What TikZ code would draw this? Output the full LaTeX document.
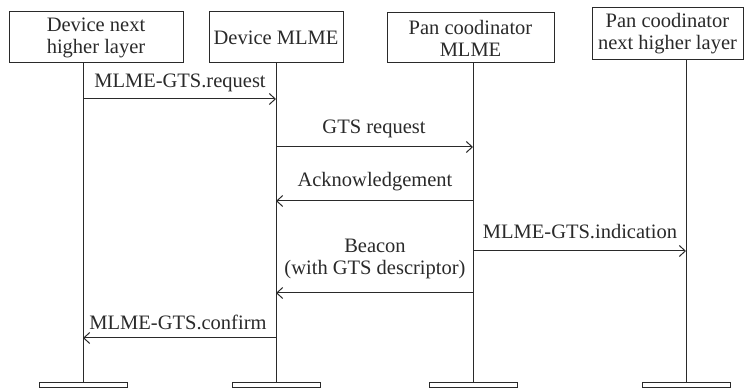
\documentclass[tikz,border=0pt]{standalone}
\usepackage{fontspec}
\setmainfont{Liberation Serif}
\usetikzlibrary{arrows.meta}
\definecolor{ink}{HTML}{2A2A2A}
\begin{document}
\begin{tikzpicture}[x=1pt,y=-1pt,
  every node/.style={text=ink,font=\fontsize{20.5}{22}\selectfont},
  actor/.style={draw=ink,line width=1pt,rectangle,align=center,inner sep=0pt},
  lifeline/.style={draw=ink,line width=1pt},
  endbar/.style={draw=ink,line width=1pt,fill=white,rectangle,minimum width=88pt,minimum height=5pt,inner sep=0pt},
  msg/.style={draw=ink,line width=1pt,-{Straight Barb[length=6pt,width=11pt]}},
  msglabel/.style={align=center,inner sep=0pt}]
\useasboundingbox (0,0) rectangle (745,390);

% participants
\node[actor,minimum width=174pt,minimum height=51pt] (dhl) at (96,37.5) {Device next\\higher layer};
\node[actor,minimum width=134pt,minimum height=51pt] (dml) at (276,37.5) {Device MLME};
\node[actor,minimum width=167pt,minimum height=50pt] (pml) at (470.5,38) {Pan coodinator\\MLME};
\node[actor,minimum width=151pt,minimum height=52pt] (phl) at (667.5,34) {Pan coodinator\\next higher layer};

% end bars
\node[endbar] (b1) at (83,385) {};
\node[endbar] (b2) at (276,385) {};
\node[endbar] (b3) at (473,385) {};
\node[endbar] (b4) at (686,385) {};

% lifelines
\coordinate (t1) at (83,63);  \coordinate (t2) at (276,63);
\coordinate (t3) at (473,63); \coordinate (t4) at (686,60);
\draw[lifeline] (t1) -- (b1.north);
\draw[lifeline] (t2) -- (b2.north);
\draw[lifeline] (t3) -- (b3.north);
\draw[lifeline] (t4) -- (b4.north);

% message end points
\coordinate (r1a) at (83,99);   \coordinate (r1b) at (276,99);
\coordinate (g1a) at (276,147); \coordinate (g1b) at (473,147);
\coordinate (k1a) at (473,201); \coordinate (k1b) at (276,201);
\coordinate (i1a) at (473,251); \coordinate (i1b) at (686,251);
\coordinate (c1a) at (473,293); \coordinate (c1b) at (276,293);
\coordinate (f1a) at (276,338); \coordinate (f1b) at (83,338);

% messages
\draw[msg] (r1a) -- (r1b);
\node[msglabel] (lr) at (180,83) {MLME-GTS.request};
\draw[msg] (g1a) -- (g1b);
\node[msglabel] (lg) at (374,129) {GTS request};
\draw[msg] (k1a) -- (k1b);
\node[msglabel] (lk) at (375,182) {Acknowledgement};
\draw[msg] (i1a) -- (i1b);
\node[msglabel] (li) at (580,232) {MLME-GTS.indication};
\draw[msg] (c1a) -- (c1b);
\node[msglabel] (lc) at (375,259) {Beacon\\(with GTS descriptor)};
\draw[msg] (f1a) -- (f1b);
\node[msglabel] (lf) at (178,322) {MLME-GTS.confirm};
\end{tikzpicture}
\end{document}
